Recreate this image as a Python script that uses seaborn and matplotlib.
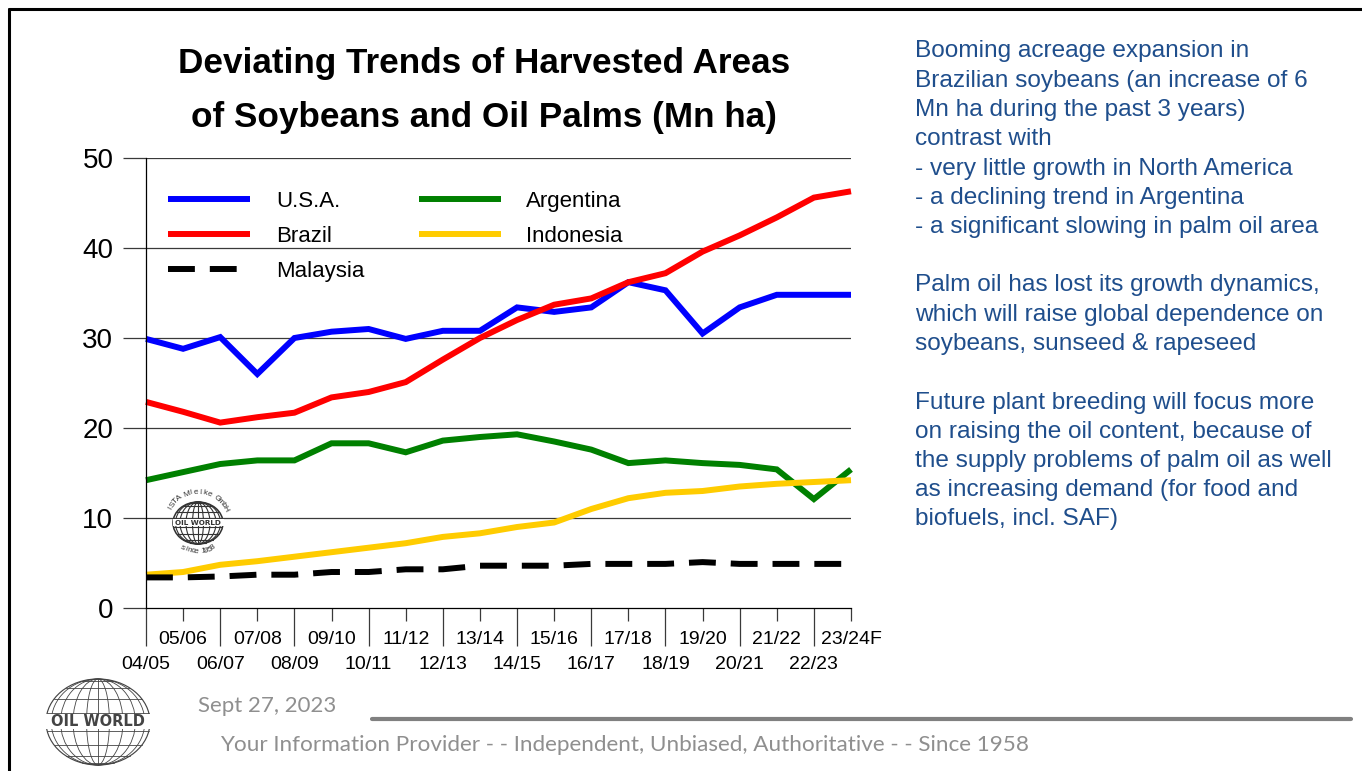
import numpy as np
import pandas as pd
import matplotlib
matplotlib.use("Agg")
import matplotlib.pyplot as plt
import seaborn as sns
from matplotlib.patches import Ellipse, Rectangle
from matplotlib.lines import Line2D

# ---------------- data ----------------
seasons = ["04/05", "05/06", "06/07", "07/08", "08/09", "09/10", "10/11", "11/12",
           "12/13", "13/14", "14/15", "15/16", "16/17", "17/18", "18/19", "19/20",
           "20/21", "21/22", "22/23", "23/24F"]
usa = [29.9, 28.8, 30.1, 26.0, 30.0, 30.7, 31.0, 29.9, 30.8, 30.8,
       33.4, 32.9, 33.4, 36.2, 35.3, 30.5, 33.4, 34.8, 34.8, 34.8]
brazil = [22.9, 21.8, 20.6, 21.2, 21.7, 23.4, 24.0, 25.1, 27.6, 30.0,
          32.0, 33.7, 34.4, 36.2, 37.2, 39.6, 41.4, 43.4, 45.6, 46.3]
argentina = [14.2, 15.1, 16.0, 16.4, 16.4, 18.3, 18.3, 17.3, 18.6, 19.0,
             19.3, 18.5, 17.6, 16.1, 16.4, 16.1, 15.9, 15.4, 12.1, 15.4]
indonesia = [3.7, 4.0, 4.8, 5.2, 5.7, 6.2, 6.7, 7.2, 7.9, 8.3,
             9.0, 9.5, 11.0, 12.2, 12.8, 13.0, 13.5, 13.8, 14.0, 14.2]
malaysia = [3.4, 3.4, 3.5, 3.7, 3.7, 4.0, 4.0, 4.3, 4.3, 4.7,
            4.7, 4.7, 4.9, 4.9, 4.9, 5.1, 4.9, 4.9, 4.9, 4.9]
countries = ["U.S.A.", "Brazil", "Argentina", "Indonesia", "Malaysia"]
colors = {"U.S.A.": "#0000FF", "Brazil": "#FF0000", "Argentina": "#008000",
          "Indonesia": "#FFCC00", "Malaysia": "#000000"}
yticks = [0, 10, 20, 30, 40, 50]

title_lines = ["Deviating Trends of Harvested Areas", "of Soybeans and Oil Palms (Mn ha)"]
side_lines = [
    "Booming acreage expansion in",
    "Brazilian soybeans (an increase of 6",
    "Mn ha during the past 3 years)",
    "contrast with",
    "- very little growth in North America",
    "- a declining trend in Argentina",
    "- a significant slowing in palm oil area",
    "",
    "Palm oil has lost its growth dynamics,",
    "which will raise global dependence on",
    "soybeans, sunseed & rapeseed",
    "",
    "Future plant breeding will focus more",
    "on raising the oil content, because of",
    "the supply problems of palm oil as well",
    "as increasing demand (for food and",
    "biofuels, incl. SAF)",
]
date_text = "Sept 27, 2023"
footer_text = "Your Information Provider - - Independent, Unbiased, Authoritative - - Since 1958"

# ---------------- setup ----------------
sns.set_style("white")
plt.rcParams["font.family"] = ["Liberation Sans", "DejaVu Sans"]
plt.rcParams["text.color"] = "black"
plt.rcParams["xtick.color"] = "black"
plt.rcParams["ytick.color"] = "black"
plt.rcParams["xtick.labelcolor"] = "black"
plt.rcParams["ytick.labelcolor"] = "black"

W, H = 1362, 771
fig = plt.figure(figsize=(W / 100, H / 100), dpi=100)
fig.patch.set_facecolor("white")


def fx(px):
    return px / W


def fy(py):
    return 1 - py / H


ax = fig.add_axes([fx(146), fy(608), fx(851) - fx(146), fy(158) - fy(608)])

pos = np.arange(len(seasons))
df = pd.DataFrame({
    "pos": np.tile(pos, 5),
    "area": usa + brazil + argentina + indonesia + malaysia,
    "country": np.repeat(countries, len(seasons)),
})

lw = 4.3
handles = {}
for c in countries:
    sub = df[df["country"] == c]
    sns.lineplot(data=sub, x="pos", y="area", color=colors[c], linewidth=lw,
                 ax=ax, legend=False, sort=False, solid_joinstyle="miter",
                 solid_capstyle="butt")
    ln = ax.lines[-1]
    if c == "Malaysia":
        ln.set_dashes((4.5, 2.5))
    ln.set_label(c)
    ln.set_clip_on(False)
    handles[c] = ln

ax.set_xlim(0, len(seasons) - 1)
ax.set_ylim(0, 50)
ax.set_xlabel("")
ax.set_ylabel("")

# grid
for v in yticks[1:]:
    ax.axhline(v, color="#3a3a3a", lw=0.9, zorder=0.5)

for s in ["top", "right"]:
    ax.spines[s].set_visible(False)
for s in ["left", "bottom"]:
    ax.spines[s].set_color("black")
    ax.spines[s].set_linewidth(0.9)

ax.set_yticks(yticks)
ax.set_yticklabels([str(v) for v in yticks], fontsize=20, color="black")
ax.tick_params(axis="y", which="major", direction="out", length=16.5, width=0.9,
               pad=7, color="#3a3a3a", left=True)

odd = pos[1::2]
even = pos[0::2]
ax.set_xticks(odd)
ax.set_xticklabels([seasons[i] for i in odd], fontsize=14, color="black")
ax.set_xticks(even, minor=True)
ax.set_xticklabels([seasons[i] for i in even], minor=True, fontsize=14, color="black")
ax.tick_params(axis="x", which="major", direction="out", length=9, width=0.9,
               pad=7.5, color="#3a3a3a", bottom=True)
ax.tick_params(axis="x", which="minor", direction="out", length=27.5, width=0.9,
               pad=7, color="#3a3a3a", bottom=True)

# legend
order = ["U.S.A.", "Brazil", "Malaysia", "Argentina", "Indonesia"]
leg = ax.legend([handles[c] for c in order], order, ncol=2, frameon=False,
                loc="upper left", bbox_to_anchor=(fx(168), fy(191)),
                bbox_transform=fig.transFigure, fontsize=16, handlelength=3.7,
                handletextpad=1.15, columnspacing=2.45, labelspacing=0.62,
                borderpad=0, borderaxespad=0)
for t in leg.get_texts():
    t.set_color("black")

# title
fig.text(fx(484), fy(63), title_lines[0], ha="center", va="center",
         fontsize=25.3, fontweight="bold", color="black")
fig.text(fx(484), fy(117), title_lines[1], ha="center", va="center",
         fontsize=25.3, fontweight="bold", color="black")

# side text
for i, t in enumerate(side_lines):
    if t:
        fig.text(fx(915), fy(51.5 + i * 29.25), t, ha="left", va="center",
                 fontsize=17.6, color="#1F4E8C")

# frame
fig.add_artist(Line2D([fx(9), fx(9)], [fy(9), 0], color="black", lw=2.2))
fig.add_artist(Line2D([fx(9), 1], [fy(9), fy(9)], color="black", lw=2.2))

# footer
fig.add_artist(Line2D([fx(372), fx(1351)], [fy(719), fy(719)], color="#808080", lw=3))
fig.text(fx(198), fy(706), date_text, ha="left", va="center", fontsize=16,
         color="#8f8f8f", family=["Lato", "DejaVu Sans"])
fig.text(fx(220), fy(745), footer_text, ha="left", va="center", fontsize=16.2,
         color="#8f8f8f", family=["Lato", "DejaVu Sans"])


# globe logos
def globe(cx, cy, rx, ry, S, band_fs, ring=False, color="#333333", lwg=0.8,
          ring_fs=5.5):
    a = fig.add_axes([fx(cx - S), fy(cy + S), 2 * S / W, 2 * S / H])
    a.set_xlim(-S, S)
    a.set_ylim(-S, S)
    a.axis("off")
    a.patch.set_alpha(0)
    a.add_patch(Ellipse((0, 0), 2 * rx, 2 * ry, fill=False, ec=color, lw=lwg * 1.4))
    for f in [0.22, 0.48, 0.72, 0.9]:
        a.add_patch(Ellipse((0, 0), 2 * rx * f, 2 * ry, fill=False, ec=color, lw=lwg))
    a.plot([0, 0], [-ry, ry], color=color, lw=lwg)
    for lat in [-72, -52, -32, -12, 12, 32, 52, 72]:
        yv = ry * np.sin(np.radians(lat))
        xv = rx * np.cos(np.radians(lat))
        a.plot([-xv, xv], [yv, yv], color=color, lw=lwg)
    a.add_patch(Rectangle((-rx * 1.02, -ry * 0.16), 2.04 * rx, ry * 0.34,
                          fc="white", ec="none", zorder=3))
    a.text(0, 0.01 * ry, "OIL WORLD", ha="center", va="center", fontsize=band_fs,
           fontweight="bold", color=color, zorder=4, family=["DejaVu Sans"])
    if ring:
        R = 31
        top = "ISTA Mielke GmbH"
        angs = np.linspace(152, 28, len(top))
        for ch, ang in zip(top, angs):
            t = np.radians(ang)
            a.text(R * np.cos(t), R * np.sin(t), ch, rotation=ang - 90,
                   ha="center", va="center", fontsize=ring_fs, color=color,
                   rotation_mode="anchor")
        bot = "since 1958"
        angs = np.linspace(238, 302, len(bot))
        for ch, ang in zip(bot, angs):
            t = np.radians(ang)
            a.text(R * 0.93 * np.cos(t), R * 0.93 * np.sin(t), ch, rotation=ang + 90,
                   ha="center", va="center", fontsize=ring_fs, color=color,
                   rotation_mode="anchor")


globe(198, 523, 25, 21, 36, 5.2, ring=True, ring_fs=6)
globe(98, 722, 52, 43, 56, 10.5, ring=False, lwg=0.6, color="#444444")

fig.savefig("out.png", dpi=100, facecolor="white")
